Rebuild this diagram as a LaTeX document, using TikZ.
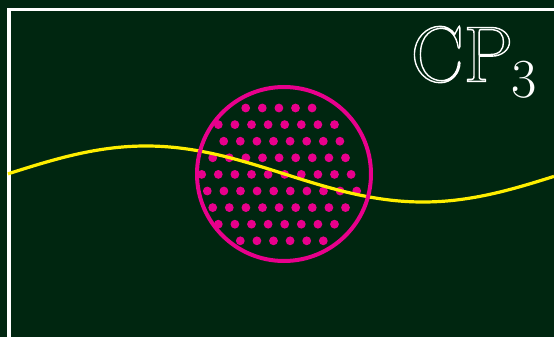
\documentclass[tikz,border=0pt]{standalone}
\definecolor{bgreen}{RGB}{0,38,16}
\definecolor{dotmag}{RGB}{232,0,140}
\definecolor{curveyel}{RGB}{255,238,0}
\newcommand{\strokedtext}[1]{\special{pdf:literal direct 1 Tr 1.4 w}#1\special{pdf:literal direct 0 Tr}}
\tikzset{
  frameline/.style={draw=white, line width=3.5pt},
  dotstyle/.style={fill=dotmag},
  ringstyle/.style={draw=dotmag, line width=4pt},
  wavestyle/.style={draw=curveyel, line width=3.2pt},
  labelstyle/.style={text=white, inner sep=0pt, anchor=base west}
}
\begin{document}
\begin{tikzpicture}[x=1pt,y=-1pt]
\fill[bgreen] (0,0) rectangle (554,337);
\useasboundingbox (0,0) rectangle (554,337);
\coordinate (tl) at (9,9.5);
\coordinate (tr) at (554,9.5);
\coordinate (bl) at (9,337);
\draw[frameline] (tr) -- (tl) -- (bl);
% dots
\foreach \yy/\xs/\n in {108/245.7/5, 124.6/218.3/8, 141.2/223.7/8, 157.8/212.7/9, 174.4/201.7/10, 191/207.3/10, 207.6/212.7/9, 224.2/218.3/8, 240.8/240.3/6}{
  \foreach \k in {1,...,\n}{
    \fill[dotstyle] ({\xs+16.6*(\k-1)},\yy) circle (4.4);
  }
}
% wave
\draw[wavestyle] plot[domain=8:554, samples=120, smooth] (\x, {174+28*sin(0.64982*(\x-284.5))});
% ring
\node[circle, ringstyle, minimum size=174pt, inner sep=0pt] (ring) at (284,174) {};
% label
\node[labelstyle] (sub) at (510.8,97) {\fontsize{55}{60}\selectfont 3};
\node[labelstyle] (cp) at (410.6,81.5) {\fontsize{79}{82}\selectfont\strokedtext{CP}};
\end{tikzpicture}
\end{document}
